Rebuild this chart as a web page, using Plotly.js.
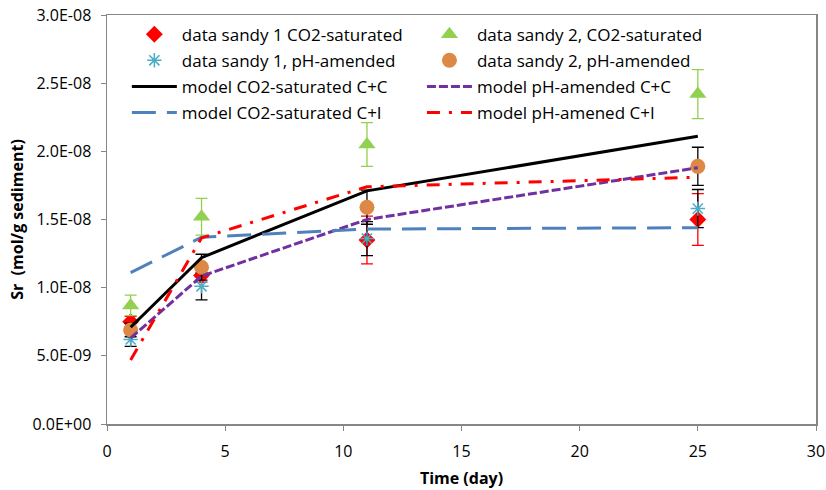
<!DOCTYPE html>
<html><head><meta charset="utf-8">
<script src="https://cdn.plot.ly/plotly-3.0.1.min.js"></script>
<style>html,body{margin:0;padding:0;background:#fff}#chart{width:826px;height:490px}</style>
</head><body><div id="chart"></div>
<script>
const days = [1, 4, 11, 25];
const sandy1CO2 = [7.5e-9, 1.09e-8, 1.35e-8, 1.50e-8];
const sandy1CO2Err = [0.4e-9, 0.5e-9, 1.75e-9, 1.9e-9];
const sandy2CO2 = [8.7e-9, 1.52e-8, 2.05e-8, 2.42e-8];
const sandy2CO2Err = [0.75e-9, 1.35e-9, 1.6e-9, 1.8e-9];
const sandy1pH = [6.2e-9, 1.01e-8, 1.36e-8, 1.58e-8];
const sandy1pHErr = [0.5e-9, 1.0e-9, 1.25e-9, 1.4e-9];
const sandy2pH = [6.9e-9, 1.15e-8, 1.59e-8, 1.89e-8];
const sandy2pHErr = [0.5e-9, 0.95e-9, 1.25e-9, 1.4e-9];
const modelCO2CC = [7.1e-9, 1.22e-8, 1.71e-8, 2.11e-8];
const modelpHCC = [6.3e-9, 1.085e-8, 1.50e-8, 1.88e-8];
const modelCO2CI = [1.11e-8, 1.37e-8, 1.43e-8, 1.44e-8];
const modelpHCI = [4.7e-9, 1.365e-8, 1.74e-8, 1.81e-8];
const yTickVals = [0, 5e-9, 1e-8, 1.5e-8, 2e-8, 2.5e-8, 3e-8];
const yTickText = ['0.0E+00', '5.0E-09', '1.0E-08', '1.5E-08', '2.0E-08', '2.5E-08', '3.0E-08'];
const xTickVals = [0, 5, 10, 15, 20, 25, 30];

const FONT = '"Open Sans", sans-serif';

function pts(name, y, err, sym, color, size, errColor, legend, grp, lineW) {
  return {
    x: days, y: y, type: 'scatter', mode: 'markers', name: name,
    legend: legend, legendgroup: grp,
    marker: {symbol: sym, color: color, size: size, line: {color: color, width: lineW || 0}},
    error_y: {type: 'data', array: err, visible: true, color: errColor, thickness: 1.3, width: 6}
  };
}
function model(name, y, color, dash, legend, grp) {
  return {
    x: days, y: y, type: 'scatter', mode: 'lines', name: name,
    legend: legend, legendgroup: grp,
    line: {color: color, width: 3, dash: dash}
  };
}

const traces = [
  pts('data sandy 1 CO2-saturated', sandy1CO2, sandy1CO2Err, 'diamond', '#FF0000', 13, '#FF0000', 'legend', 'a'),
  pts('data sandy 2, CO2-saturated', sandy2CO2, sandy2CO2Err, 'triangle-up', '#92D050', 15, '#92D050', 'legend2', 'e'),
  pts('data sandy 1, pH-amended', sandy1pH, sandy1pHErr, 'asterisk-open', '#4BACC6', 12, '#000000', 'legend', 'b', 1.5),
  pts('data sandy 2, pH-amended', sandy2pH, sandy2pHErr, 'circle', '#DD8844', 15, '#000000', 'legend2', 'f'),
  model('model CO2-saturated C+C', modelCO2CC, '#000000', 'solid', 'legend', 'c'),
  model('model pH-amended C+C', modelpHCC, '#7030A0', '9px,3px', 'legend2', 'g'),
  model('model CO2-saturated C+I', modelCO2CI, '#4F81BD', '24px,11px', 'legend', 'd'),
  model('model pH-amened C+I', modelpHCI, '#FF0000', '13px,9px,3px,9px', 'legend2', 'h')
];

const axisCommon = {
  showline: true, mirror: true, linecolor: '#868686', linewidth: 1.5,
  ticks: 'outside', ticklen: 5, tickcolor: '#868686', tickwidth: 1,
  showgrid: false, zeroline: false, tickfont: {family: FONT, size: 16, color: '#000'}
};

const legendCommon = {
  xanchor: 'left', yanchor: 'top', y: 0.996,
  bgcolor: 'rgba(0,0,0,0)', font: {family: FONT, size: 17, color: '#000'},
  tracegroupgap: 1, itemwidth: 45, traceorder: 'grouped'
};

const layout = {
  width: 826, height: 490,
  margin: {l: 107, r: 10, t: 15, b: 66},
  paper_bgcolor: '#fff', plot_bgcolor: '#fff',
  showlegend: true,
  font: {family: FONT, color: '#000'},
  xaxis: Object.assign({}, axisCommon, {
    range: [0, 30], tickvals: xTickVals, ticklabelstandoff: 7,
    title: {text: '<b>Time (day)</b>', font: {family: FONT, size: 16}, standoff: 12}
  }),
  yaxis: Object.assign({}, axisCommon, {
    range: [0, 3e-8], tickvals: yTickVals, ticktext: yTickText, ticklabelstandoff: 6,
    title: {text: '<b>Sr  (mol/g sediment)</b>', font: {family: FONT, size: 16}, standoff: 5}
  }),
  legend: Object.assign({}, legendCommon, {x: 0.028}),
  legend2: Object.assign({}, legendCommon, {x: 0.4442})
};

Plotly.newPlot('chart', traces, layout, {displayModeBar: false, staticPlot: true});
</script></body></html>
